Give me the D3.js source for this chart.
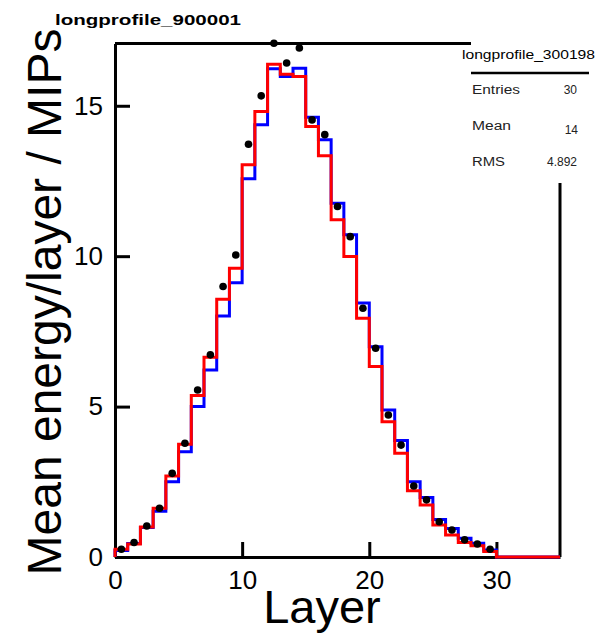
<!DOCTYPE html>
<html>
<head>
<meta charset="utf-8">
<script src="https://cdn.jsdelivr.net/npm/d3@7"></script>
<style>
  html, body { margin: 0; padding: 0; background: #fff; }
  svg { display: block; font-family: "Liberation Sans", Arial, sans-serif; }
</style>
</head>
<body>
<svg id="chart" width="604" height="637"></svg>
<script>
// Longitudinal shower profile: mean energy per layer (MIPs), bins of width 1 layer.
const layerEdges = d3.range(0, 35);            // lower edge of each bin, 0..34
const simBlue = [0.22, 0.45, 0.98, 1.52, 2.50, 3.50, 5.00, 6.22, 8.01, 9.12,
                 12.57, 14.37, 16.23, 15.97, 16.25, 14.62, 13.87, 11.76, 10.71, 8.44,
                 6.99, 4.89, 3.87, 2.50, 1.98, 1.25, 0.95, 0.62, 0.46, 0.23,
                 0, 0, 0, 0, 0];
const simRed  = [0.26, 0.43, 1.00, 1.62, 2.69, 3.75, 5.37, 6.64, 8.57, 9.60,
                 13.04, 14.81, 16.38, 16.05, 15.97, 14.31, 13.34, 11.21, 9.99, 7.94,
                 6.33, 4.50, 3.45, 2.20, 1.73, 1.06, 0.73, 0.48, 0.37, 0.18,
                 0, 0, 0, 0, 0];
const dataPoints = [0.26, 0.48, 1.03, 1.62, 2.78, 3.78, 5.55, 6.72, 8.99, 10.04,
                    13.72, 15.33, 17.08, 16.42, 16.92, 14.53, 14.04, 11.65, 10.65, 8.27,
                    6.94, 4.72, 3.72, 2.36, 1.90, 1.17, 0.90, 0.57, 0.43, 0.26];
const xTicks = [0, 10, 20, 30];
const yTicks = [0, 5, 10, 15];
const statsLabels = ["Entries", "Mean", "RMS"];
const statsValues = ["30", "14", "4.892"];

const svg = d3.select("#chart");
const frameLeft = 115, frameRight = 560, frameBottom = 557, frameTop = 43.5;

const x = d3.scaleLinear().domain([0, 35]).range([frameLeft, frameRight]);
const y = d3.scaleLinear().domain([0, 17.07]).range([frameBottom, frameTop]);

// Axes with ticks pointing into the frame
const yAxis = svg.append("g")
  .attr("transform", `translate(${frameLeft},0)`)
  .call(d3.axisLeft(y).tickValues(yTicks).tickSize(-15).tickSizeOuter(0).tickPadding(12));
const xAxis = svg.append("g")
  .attr("transform", `translate(0,${frameBottom})`)
  .call(d3.axisBottom(x).tickValues(xTicks).tickSize(-15).tickSizeOuter(0).tickPadding(14));

[yAxis, xAxis].forEach(g => {
  g.select(".domain").attr("stroke", "#000").attr("stroke-width", 3);
  g.selectAll(".tick line").attr("stroke", "#000").attr("stroke-width", 3);
  g.selectAll(".tick text")
    .attr("fill", "#000")
    .style("font-size", "26px")
    .style("font-family", "'Liberation Sans', Arial, sans-serif");
});

// Remaining frame edges, interrupted by the statistics box
svg.append("line")
  .attr("x1", frameLeft).attr("x2", 471).attr("y1", frameTop).attr("y2", frameTop)
  .attr("stroke", "#000").attr("stroke-width", 3);
svg.append("line")
  .attr("x1", frameRight).attr("x2", frameRight).attr("y1", 183).attr("y2", frameBottom)
  .attr("stroke", "#000").attr("stroke-width", 3);

// Step outline for a histogram: rises from the baseline at the first edge.
function stepPoints(values) {
  const pts = [[0, 0]];
  values.forEach((v, i) => pts.push([layerEdges[i], v]));
  pts.push([layerEdges[values.length - 1] + 1, values[values.length - 1]]);
  return pts;
}
const stepLine = d3.line()
  .x(d => x(d[0]))
  .y(d => y(d[1]))
  .curve(d3.curveStepAfter);

svg.append("path")
  .attr("d", stepLine(stepPoints(simBlue)))
  .attr("fill", "none").attr("stroke", "#0000ff").attr("stroke-width", 3);
svg.append("path")
  .attr("d", stepLine(stepPoints(simRed)))
  .attr("fill", "none").attr("stroke", "#ff0000").attr("stroke-width", 3);

// Measured points at bin centres
svg.append("g").selectAll("circle")
  .data(dataPoints)
  .join("circle")
  .attr("cx", (d, i) => x(layerEdges[i] + 0.5))
  .attr("cy", d => y(d))
  .attr("r", 3.8)
  .attr("fill", "#000");

// Titles
svg.append("text")
  .attr("x", 55).attr("y", 25)
  .attr("textLength", 186).attr("lengthAdjust", "spacingAndGlyphs")
  .style("font-size", "15px").style("font-weight", "bold")
  .text("longprofile_900001");

svg.append("text")
  .attr("x", 322).attr("y", 623)
  .attr("text-anchor", "middle")
  .style("font-size", "47px")
  .text("Layer");

svg.append("text")
  .attr("transform", "translate(61,302) rotate(-90)")
  .attr("text-anchor", "middle")
  .style("font-size", "48px")
  .text("Mean energy/layer / MIPs");

// Statistics box
const stats = svg.append("g");
stats.append("text")
  .attr("x", 462).attr("y", 59)
  .attr("textLength", 133).attr("lengthAdjust", "spacingAndGlyphs")
  .style("font-size", "12px")
  .text("longprofile_300198");
stats.append("line")
  .attr("x1", 471).attr("x2", 589).attr("y1", 73).attr("y2", 73)
  .attr("stroke", "#000").attr("stroke-width", 2.5);

const rowY = [94, 130, 166];
const labelW = [48, 39, 33];
const valueX = [577, 578, 577];
statsLabels.forEach((s, i) => {
  stats.append("text")
    .attr("x", 472).attr("y", rowY[i])
    .attr("textLength", labelW[i]).attr("lengthAdjust", "spacingAndGlyphs")
    .style("font-size", "12px").attr("fill", "#222")
    .text(s);
  stats.append("text")
    .attr("x", valueX[i]).attr("y", rowY[i] + (i === 1 ? 4 : 0))
    .attr("text-anchor", "end")
    .style("font-size", "12px").attr("fill", "#222")
    .text(statsValues[i]);
});
</script>
</body>
</html>
